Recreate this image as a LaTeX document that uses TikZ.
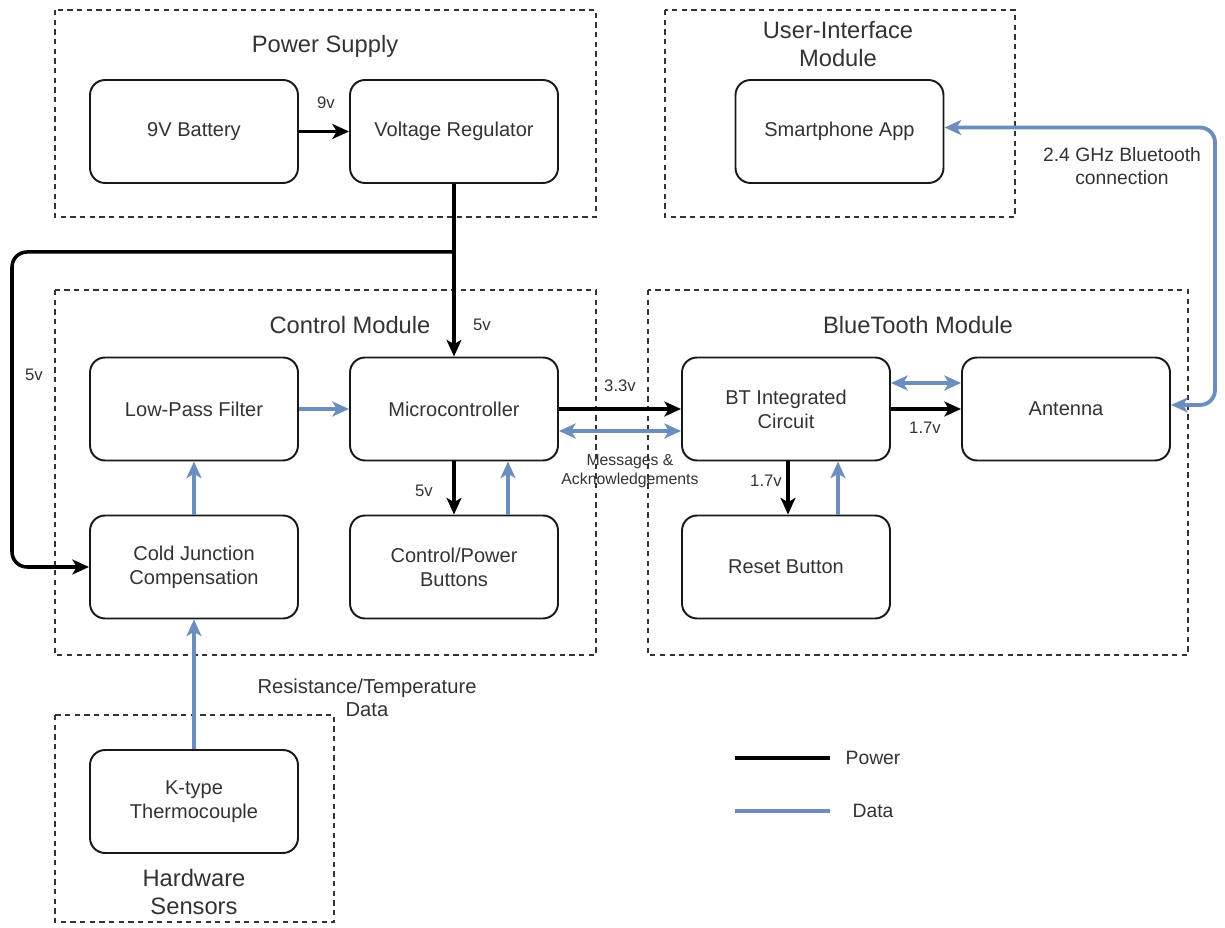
\documentclass[tikz,border=0pt]{standalone}
\usepackage{fontspec}
\setmainfont{Liberation Sans}
\usetikzlibrary{arrows.meta,calc}
\definecolor{dblue}{HTML}{6C8EBF}
\definecolor{txt}{HTML}{333333}
\tikzset{
  blk/.style={draw=black!90, line width=1.1pt, rounded corners=0.3cm, minimum width=4.16cm, minimum height=2.06cm, align=center, text=txt, font=\fontsize{11.4}{13.5}\selectfont},
  grp/.style={draw=black!80, line width=0.9pt, dash pattern=on 3pt off 2.5pt},
  ttl/.style={text=txt, align=center, font=\fontsize{13.5}{16}\selectfont},
  lbl/.style={text=txt, align=center, font=\fontsize{9.5}{11}\selectfont},
  pw/.style={draw=black, line width=2pt, -{Stealth[length=9.5pt,width=8.5pt,inset=2.5pt]}},
  pwl/.style={draw=black, line width=2.2pt},
  dt/.style={draw=dblue, line width=2.2pt, -{Stealth[length=9.5pt,width=8.5pt,inset=2.5pt]}},
  dt2/.style={draw=dblue, line width=2.2pt, {Stealth[length=9.5pt,width=8.5pt,inset=2.5pt]}-{Stealth[length=9.5pt,width=8.5pt,inset=2.5pt]}},
}
\begin{document}
\begin{tikzpicture}[x=0.02cm,y=-0.02cm]
\useasboundingbox (0,0) rectangle (1225,928);
% groups
\draw[grp] (55,10) rectangle (596,217);
\draw[grp] (665,10) rectangle (1015,217);
\draw[grp] (55,290) rectangle (596,655);
\draw[grp] (648,290) rectangle (1188,655);
\draw[grp] (55,715) rectangle (334,922);
\node[ttl] (tps) at (325,46) {Power Supply};
\node[ttl] (tui) at (838,44) {User-Interface\\Module};
\node[ttl] (tcm) at (350,325) {Control Module};
\node[ttl] (tbt) at (918,325) {BlueTooth Module};
\node[ttl] (ths) at (194,892) {Hardware\\Sensors};
% blocks
\node[blk] (bat) at (194,131.5) {9V Battery};
\node[blk] (vr) at (454,131.5) {Voltage Regulator};
\node[blk] (app) at (839.5,131.5) {Smartphone App};
\node[blk] (lpf) at (194,409) {Low-Pass Filter};
\node[blk] (mc) at (454,409) {Microcontroller};
\node[blk] (cjc) at (194,567) {Cold Junction\\Compensation};
\node[blk] (cpb) at (454,567) {Control/Power\\Buttons};
\node[blk] (bt) at (786,409) {BT Integrated\\Circuit};
\node[blk] (ant) at (1066,409) {Antenna};
\node[blk] (rst) at (786,567) {Reset Button};
\node[blk] (tc) at (194,801.5) {K-type\\Thermocouple};
% power connectors
\draw[pw] (bat) -- (vr);
\draw[pw] (vr.south) -- (mc.north);
\coordinate (br) at (454,252);
\coordinate (lc) at (12,252);
\draw[pw, rounded corners=0.3cm] (br) -- (lc) |- (cjc.west);
\draw[pw] (mc.south) -- (cpb.north);
\draw[pw] (mc.east) -- (bt.west);
\draw[pw] (bt.east) -- (ant.west);
\draw[pw] ($(bt.south)+(2,0)$) -- ($(rst.north)+(2,0)$);
% data connectors
\draw[dt] (lpf) -- (mc);
\draw[dt] (cjc) -- (lpf);
\draw[dt] (tc) -- (cjc);
\draw[dt] ($(cpb.north)+(54,0)$) -- ($(mc.south)+(54,0)$);
\draw[dt] ($(rst.north)+(52,0)$) -- ($(bt.south)+(52,0)$);
\draw[dt2] ($(mc.east)+(0,22)$) -- ($(bt.west)+(0,22)$);
\draw[dt2] ($(bt.east)+(0,-26)$) -- ($(ant.west)+(0,-26)$);
\coordinate (rc1) at (1215,405);
\draw[dt2, rounded corners=0.3cm] ($(ant.east)+(0,-4)$) -- (rc1) |- ($(app.east)+(0,-4)$);
% labels
\node[lbl] (l9) at (326,103) {9v};
\node[lbl] (l5a) at (482,325) {5v};
\node[lbl] (l5b) at (34,375) {5v};
\node[lbl] (l33) at (620,386) {3.3v};
\node[lbl, font=\fontsize{9}{11}\selectfont] (lmsg) at (630,471) {Messages \&\\Acknowledgements};
\node[lbl] (l17a) at (925,428) {1.7v};
\node[lbl] (l17b) at (766,481) {1.7v};
\node[lbl] (l5c) at (424,491) {5v};
\node[lbl, font=\fontsize{11}{13}\selectfont] (lbtc) at (1122,166) {2.4 GHz Bluetooth\\connection};
\node[lbl, font=\fontsize{11.5}{13}\selectfont] (lres) at (367,698) {Resistance/Temperature\\Data};
% legend
\coordinate (lp1) at (735,758);
\coordinate (lp2) at (830,758);
\coordinate (ld1) at (735,811);
\coordinate (ld2) at (830,811);
\draw[pwl] (lp1) -- (lp2);
\draw[draw=dblue, line width=2.2pt] (ld1) -- (ld2);
\node[lbl, font=\fontsize{11}{13}\selectfont] (lpw) at (873,758) {Power};
\node[lbl, font=\fontsize{11}{13}\selectfont] (ldt) at (873,811) {Data};
\end{tikzpicture}
\end{document}
